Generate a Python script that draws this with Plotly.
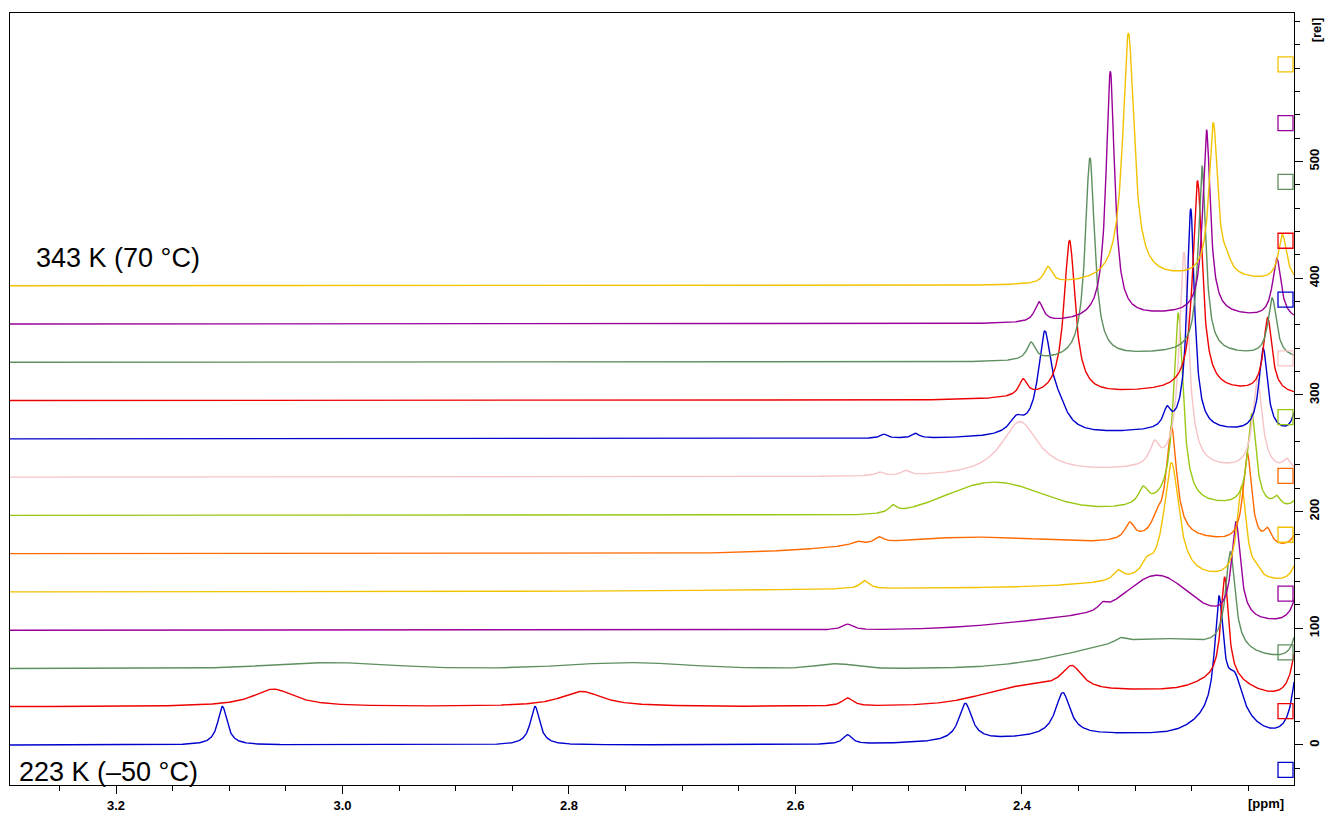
import numpy as np
import plotly.graph_objects as go

# Variable-temperature 1H NMR series, 223 K (bottom) to 343 K (top)
temperatures_K = [223, 233, 243, 253, 263, 273, 283, 293, 303, 313, 323, 333, 343]
trace_colors = ["#0000CC", "#EE0000", "#5E8F5E", "#990099", "#F2C200", "#FF6A00", "#99C814",
                "#F7C3C6", "#0000CC", "#EE0000", "#5E8F5E", "#990099", "#F2C200"]

# Resolved lines per spectrum: (shift / ppm, height / rel, FWHM / ppm), Lorentzian
lines_223K = [(3.106, 33, 0.010), (2.830, 33, 0.010), (2.554, 8, 0.010), (2.450, 32, 0.014),
              (2.364, 37, 0.016), (2.226, 95, 0.009), (2.212, 30, 0.016), (2.155, 80, 0.012)]
lines_233K = [(3.061, 15, 0.045), (2.789, 13, 0.045), (2.554, 7, 0.012), (2.356, 20, 0.022),
              (2.221, 88, 0.008), (2.155, 65, 0.012)]
lines_243K = [(2.313, 4, 0.010), (2.216, 84, 0.010), (2.152, 100, 0.008)]
lines_253K = [(2.554, 5, 0.012), (2.329, 5, 0.008), (2.211, 83, 0.0095), (2.152, 75, 0.010)]
lines_263K = [(2.539, 7, 0.010), (2.315, 8, 0.010), (2.290, 9, 0.010), (2.268, 100, 0.016),
              (2.206, 80, 0.010), (2.193, 5, 0.008), (2.155, 25, 0.012)]
lines_273K = [(2.546, 3, 0.010), (2.526, 5, 0.010), (2.305, 14, 0.010), (2.281, 12, 0.010),
              (2.268, 95, 0.011), (2.201, 78, 0.009), (2.183, 12, 0.008), (2.155, 20, 0.012)]
lines_283K = [(2.514, 6, 0.008), (2.293, 14, 0.010), (2.262, 165, 0.010), (2.197, 80, 0.009),
              (2.175, 8, 0.008), (2.155, 12, 0.012)]
lines_293K = [(2.526, 3, 0.008), (2.503, 4, 0.008), (2.402, 46, 0.040), (2.283, 18, 0.010),
              (2.257, 185, 0.010), (2.192, 78, 0.010), (2.166, 9, 0.008)]
lines_303K = [(2.522, 3.5, 0.008), (2.494, 4, 0.008), (2.405, 12, 0.015), (2.380, 82, 0.014),
              (2.368, 18, 0.020), (2.272, 15, 0.008), (2.251, 190, 0.008), (2.187, 72, 0.009),
              (2.158, 20, 0.008)]
lines_313K = [(2.399, 14, 0.009), (2.358, 133, 0.012), (2.245, 180, 0.010), (2.183, 64, 0.009)]
lines_323K = [(2.392, 15, 0.009), (2.340, 172, 0.010), (2.241, 160, 0.008), (2.179, 50, 0.009)]
lines_333K = [(2.385, 17, 0.009), (2.322, 212, 0.009), (2.237, 158, 0.008), (2.175, 52, 0.009)]
lines_343K = [(2.377, 14, 0.009), (2.306, 212, 0.012), (2.231, 132, 0.009), (2.219, 8, 0.008),
              (2.170, 40, 0.009)]

# Broad exchange humps per spectrum: (centre / ppm, height / rel, FWHM / ppm), Gaussian
humps_223K = [(2.30, 9, 0.25), (2.222, 18, 0.05)]
humps_233K = [(2.40, 10, 0.08), (2.29, 14, 0.22), (2.222, 12, 0.05)]
humps_243K = [(3.011, 5, 0.12), (2.748, 5, 0.12), (2.565, 4, 0.04), (2.28, 25, 0.16)]
humps_253K = [(2.28, 32, 0.06), (2.30, 15, 0.20)]
humps_263K = [(2.30, 4, 0.60), (2.25, 6, 0.15)]
humps_273K = [(2.44, 14, 0.22), (2.25, 10, 0.12)]
humps_283K = [(2.425, 28, 0.10), (2.25, 8, 0.16)]
humps_293K = [(2.25, 6, 0.20)]
humps_303K = [(2.25, 6, 0.20)]
humps_313K = [(2.25, 8, 0.20)]
humps_323K = [(2.25, 8, 0.15)]
humps_333K = [(2.25, 8, 0.15)]
humps_343K = [(2.25, 6, 0.15)]

line_tables = [lines_223K, lines_233K, lines_243K, lines_253K, lines_263K, lines_273K, lines_283K,
               lines_293K, lines_303K, lines_313K, lines_323K, lines_333K, lines_343K]
hump_tables = [humps_223K, humps_233K, humps_243K, humps_253K, humps_263K, humps_273K, humps_283K,
               humps_293K, humps_303K, humps_313K, humps_323K, humps_333K, humps_343K]

x_range = [3.2936, 2.1598]
y_range = [-34.3, 627.4]
stack_step = 32.8
ppm = np.linspace(x_range[0], x_range[1], 2600)


def spectrum(lines, humps):
    y = np.zeros_like(ppm)
    for c, h, w in lines:
        y += h / (1.0 + (2.0 * (ppm - c) / w) ** 2)
    for c, h, w in humps:
        y += h * np.exp(-4.0 * np.log(2.0) * ((ppm - c) / w) ** 2)
    return y


fig = go.Figure()
for k, (lines, humps) in enumerate(zip(line_tables, hump_tables)):
    fig.add_trace(go.Scatter(
        x=ppm, y=spectrum(lines, humps) + k * stack_step, mode="lines",
        line=dict(color=trace_colors[k], width=1.4), name=f"{temperatures_K[k]} K",
        hoverinfo="skip"))

# colour key boxes along the right edge, one per spectrum
n = len(temperatures_K)
fig.add_trace(go.Scatter(
    x=[2.1673] * n, y=[-21.4 + 50.4 * k for k in range(n)], mode="markers",
    marker=dict(symbol="square-open", size=15, color=trace_colors, line=dict(width=1.3)),
    hoverinfo="skip", cliponaxis=False))

tick_font = dict(family="Liberation Sans, Arial, sans-serif", size=13, color="black", weight="bold")
label_font = dict(family="Liberation Sans, Arial, sans-serif", size=27, color="black")

fig.update_layout(
    width=1326, height=818,
    margin=dict(l=10, r=32, t=13, b=33),
    plot_bgcolor="white", paper_bgcolor="white",
    showlegend=False,
    xaxis=dict(
        range=x_range, showgrid=False, zeroline=False, automargin=False,
        showline=True, linecolor="black", linewidth=1, mirror=True,
        ticks="outside", ticklen=8, tickwidth=1, tickcolor="black",
        tickvals=[3.2, 3.0, 2.8, 2.6, 2.4, 2.2],
        ticktext=["3.2", "3.0", "2.8", "2.6", "2.4", ""],
        tickfont=tick_font,
        minor=dict(tickvals=[round(3.25 - 0.05 * i, 2) for i in range(22)],
                   ticks="outside", ticklen=5, tickwidth=1, tickcolor="black"),
    ),
    yaxis=dict(
        range=y_range, side="right", showgrid=False, zeroline=False, automargin=False,
        showline=True, linecolor="black", linewidth=1, mirror=True,
        ticks="outside", ticklen=8, tickwidth=1, tickcolor="black",
        tickvals=[0, 100, 200, 300, 400, 500],
        ticktext=["0", "100", "200", "300", "400", "500"],
        tickangle=-90, tickfont=tick_font,
        minor=dict(tickvals=list(range(-20, 621, 20)),
                   ticks="outside", ticklen=5, tickwidth=1, tickcolor="black"),
    ),
    annotations=[
        dict(text="343 K (70 °C)", xref="paper", yref="paper", x=0.0185, y=0.6826,
             xanchor="left", yanchor="middle", showarrow=False, font=label_font),
        dict(text="223 K (–50 °C)", xref="paper", yref="paper", x=0.0052, y=0.0168,
             xanchor="left", yanchor="middle", showarrow=False, font=label_font),
        dict(text="[ppm]", xref="x", yref="paper", x=2.2, y=0, xanchor="left", yanchor="top",
             yshift=-9, xshift=-2, showarrow=False, font=tick_font),
        dict(text="[rel]", xref="paper", yref="y", x=1, y=613, xanchor="left", yanchor="middle",
             xshift=13, textangle=-90, showarrow=False, font=tick_font),
    ],
)

fig.write_html("out.html")
